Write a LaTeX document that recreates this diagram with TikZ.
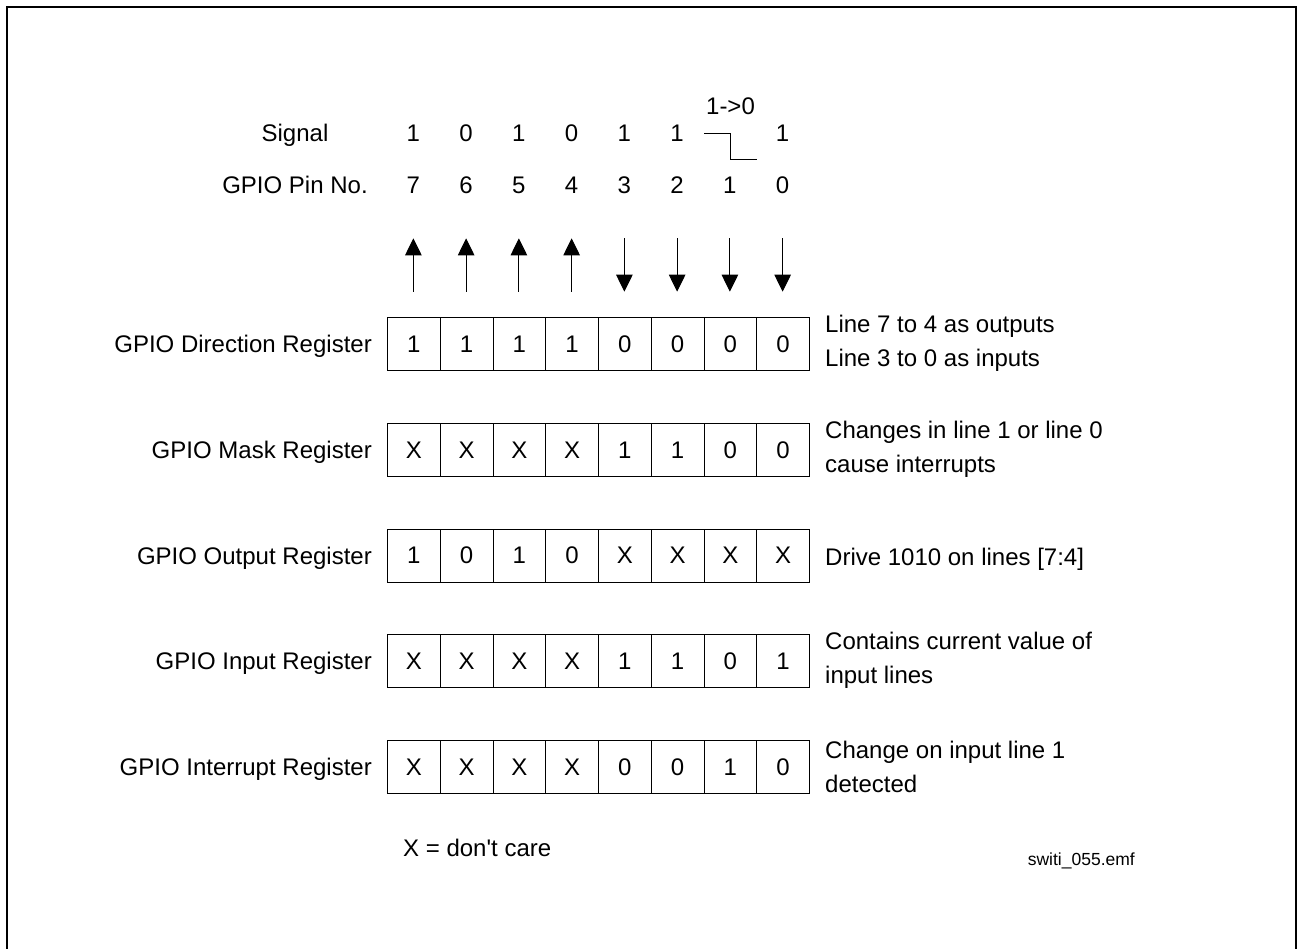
\documentclass[tikz,border=0pt]{standalone}
\usepackage{fontspec}
\setmainfont{Liberation Sans}[Ligatures=TeXOff]
\usetikzlibrary{arrows.meta}
\begin{document}
\begin{tikzpicture}[x=1pt,y=-1pt,
  txt/.style={font=\fontsize{24}{34}\selectfont, inner sep=0pt},
  small/.style={font=\fontsize{17.5}{20}\selectfont, inner sep=0pt},
  cellbox/.style={draw, line width=1pt, minimum width=52.75pt, minimum height=53pt,
    inner sep=0pt, anchor=north west, font=\fontsize{24}{34}\selectfont},
  arr/.style={line width=1pt, -{Triangle[width=16.5pt,length=17pt]}},
  frame/.style={line width=2pt},
  stepline/.style={line width=1pt}]
\useasboundingbox (0,0) rectangle (1298,949);
% frame (open at bottom)
\coordinate (f1) at (7,960);
\coordinate (f2) at (7,7);
\coordinate (f3) at (1295.5,7);
\coordinate (f4) at (1295.5,960);
\draw[frame] (f1) -- (f2) -- (f3) -- (f4);
% header labels
\node[txt, anchor=base] (sig) at (295,141.5) {Signal};
\node[txt, anchor=base] (pin) at (295,194) {GPIO Pin No.};
% signal values
\foreach \v [count=\c from 0] in {1,0,1,0,1,1,,1} {
  \pgfmathsetmacro{\xc}{387+52.75*(\c+0.5)}
  \node[txt, anchor=base] (s\c) at (\xc,141.5) {\v};
}
% pin numbers
\foreach \v [count=\c from 0] in {7,6,5,4,3,2,1,0} {
  \pgfmathsetmacro{\xc}{387+52.75*(\c+0.5)}
  \node[txt, anchor=base] (p\c) at (\xc,194) {\v};
}
% transition 1->0
\node[txt, anchor=base] (tr) at (730.5,115) {1->0};
\coordinate (st1) at (704,133.3);
\coordinate (st2) at (730,133.3);
\coordinate (st3) at (730,159.3);
\coordinate (st4) at (757,159.3);
\draw[stepline] (st1) -- (st2) -- (st3) -- (st4);
% direction arrows
\foreach \c in {0,...,7} {
  \pgfmathsetmacro{\xc}{387+52.75*(\c+0.5)}
  \coordinate (at\c) at (\xc,238.3);
  \coordinate (ab\c) at (\xc,291.7);
}
\foreach \c in {0,...,3} { \draw[arr] (ab\c) -- (at\c); }
\foreach \c in {4,...,7} { \draw[arr] (at\c) -- (ab\c); }
% registers
\foreach \r/\lab/\vals in {
  0/{GPIO Direction Register}/{1,1,1,1,0,0,0,0},
  1/{GPIO Mask Register}/{X,X,X,X,1,1,0,0},
  2/{GPIO Output Register}/{1,0,1,0,X,X,X,X},
  3/{GPIO Input Register}/{X,X,X,X,1,1,0,1},
  4/{GPIO Interrupt Register}/{X,X,X,X,0,0,1,0}} {
  \pgfmathsetmacro{\yt}{317+105.75*\r}
  \pgfmathsetmacro{\yc}{\yt+26.5}
  \node[txt, anchor=base east] (l\r) at (372,\yc+9) {\lab};
  \foreach \v [count=\c from 0] in \vals {
    \pgfmathsetmacro{\xl}{387+52.75*\c}
    \node[cellbox] (c\r-\c) at (\xl,\yt) {\v};
  }
}
% descriptions
\node[txt, anchor=west, align=left] (d0) at (825,343.5) {Line 7 to 4 as outputs\\Line 3 to 0 as inputs};
\node[txt, anchor=west, align=left] (d1) at (825,449.25) {Changes in line 1 or line 0\\cause interrupts};
\node[txt, anchor=base west] (d2) at (825,565) {Drive 1010 on lines [7:4]};
\node[txt, anchor=west, align=left] (d3) at (825,660.75) {Contains current value of\\input lines};
\node[txt, anchor=west, align=left] (d4) at (825,766.5) {Change on input line 1\\detected};
% footnotes
\node[txt, anchor=base west] (dc) at (403,856) {X = don't care};
\node[small, anchor=base east] (fn) at (1135,865) {switi\_055.emf};
\end{tikzpicture}
\end{document}
